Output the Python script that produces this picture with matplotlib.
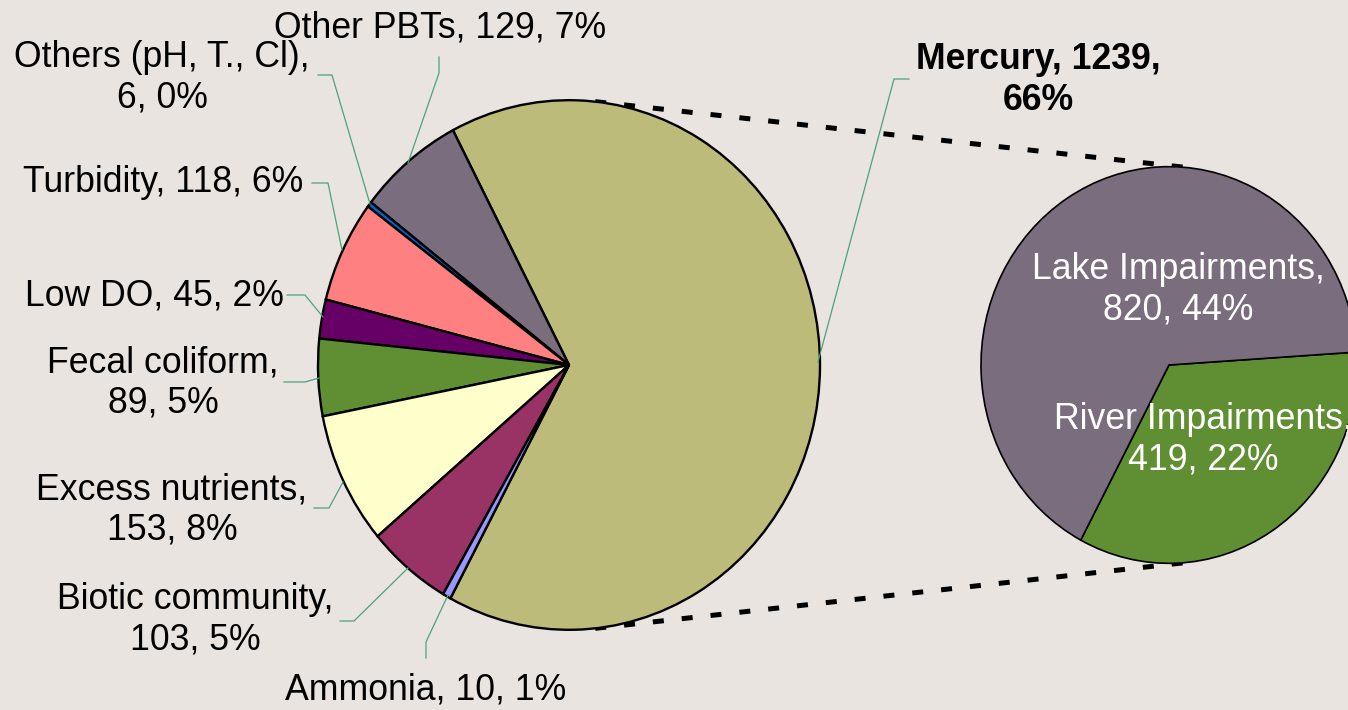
import numpy as np
import matplotlib.pyplot as plt

plt.rcParams['font.family'] = ['Liberation Sans', 'DejaVu Sans']

W, H = 1348, 710
K = 1.055  # the original chart is slightly stretched vertically

# main pie (clockwise from Mercury as drawn in the original)
main_labels = ['Mercury', 'Other PBTs', 'Others (pH, T., Cl)', 'Turbidity', 'Low DO',
               'Fecal coliform', 'Excess nutrients', 'Biotic community', 'Ammonia']
main_values = [1239, 129, 6, 118, 45, 89, 153, 103, 10]
main_pcts = [66, 7, 0, 6, 2, 5, 8, 5, 1]
main_colors = ['#bcbb79', '#7a6d7d', '#0066cc', '#ff8080', '#660066',
               '#5f8f32', '#ffffcc', '#993366', '#9999ff']

# breakdown of Mercury
sub_labels = ['River Impairments', 'Lake Impairments']
sub_values = [419, 820]
sub_pcts = [22, 44]
sub_colors = ['#5f8f32', '#7a6d7d']

bg = '#eae4e1'
leader = '#4aa37a'

fig = plt.figure(figsize=(W / 100, H / 100), dpi=100, facecolor=bg)

# pies in a stretched data space
ax = fig.add_axes([0, 0, 1, 1])
main_c, main_r = (569, (H - 365) / K), 251
sub_c, sub_r = (1169, (H - 365) / K), 188
ax.pie(main_values, colors=main_colors, startangle=241.8, counterclock=True,
       center=main_c, radius=main_r,
       wedgeprops=dict(edgecolor='black', linewidth=1.7))
ax.pie(sub_values, colors=sub_colors, startangle=-118, counterclock=True,
       center=sub_c, radius=sub_r,
       wedgeprops=dict(edgecolor='black', linewidth=1.2))
ax.set_aspect('auto')
ax.set_xlim(0, W)
ax.set_ylim(0, H / K)
ax.axis('off')

# dashed connectors between the pies
for ang in (84, -84):
    t = np.radians(ang)
    x0 = main_c[0] + main_r * np.cos(t)
    y0 = main_c[1] + main_r * np.sin(t)
    x1 = sub_c[0] + sub_r * np.cos(t)
    y1 = sub_c[1] + sub_r * np.sin(t)
    ax.plot([x0, x1], [y0, y1], color='black', lw=3.6,
            linestyle=(0, (2.2, 3.6)), dash_capstyle='butt', zorder=0)

# labels and leader lines in pixel coordinates
ax2 = fig.add_axes([0, 0, 1, 1])
ax2.set_xlim(0, W)
ax2.set_ylim(H, 0)
ax2.axis('off')

main_text = [
    'Mercury, {v},\n{p}%', 'Other PBTs, {v}, {p}%', 'Others (pH, T., Cl),\n{v}, {p}%',
    'Turbidity, {v}, {p}%', 'Low DO, {v}, {p}%', 'Fecal coliform,\n{v}, {p}%',
    'Excess nutrients,\n{v}, {p}%', 'Biotic community,\n{v}, {p}%', 'Ammonia, {v}, {p}%',
]
main_pos = [(1038, 80), (440, 28), (162, 78), (163, 183), (154, 296),
            (163, 383), (172, 510), (195, 620), (426, 690)]
main_leaders = [
    [(909, 79), (894, 79), (818, 362)],
    [(439, 57), (439, 73), (408, 163)],
    [(318, 75), (332, 75), (370, 204)],
    [(312, 183), (328, 183), (342, 250)],
    [(287, 295), (305, 295), (323, 317)],
    [(284, 382), (305, 382), (319, 378)],
    [(314, 508), (329, 508), (343, 482)],
    [(340, 621), (354, 621), (408, 568)],
    [(426, 658), (426, 642), (448, 595)],
]

for i, lab in enumerate(main_labels):
    s = main_text[i].format(v=main_values[i], p=main_pcts[i])
    ax2.text(*main_pos[i], s, ha='center', va='center', fontsize=25.7,
             linespacing=1.2, fontweight='bold' if i == 0 else 'normal')
    pts = np.array(main_leaders[i])
    ax2.plot(pts[:, 0], pts[:, 1], color=leader, lw=0.9)

sub_pos = [(1203, 440), (1178, 290)]
for i, lab in enumerate(sub_labels):
    ax2.text(*sub_pos[i], f'{lab},\n{sub_values[i]}, {sub_pcts[i]}%', ha='center',
             va='center', fontsize=25.7, linespacing=1.2, color='white')

fig.savefig('out.png', dpi=100, facecolor=bg)
